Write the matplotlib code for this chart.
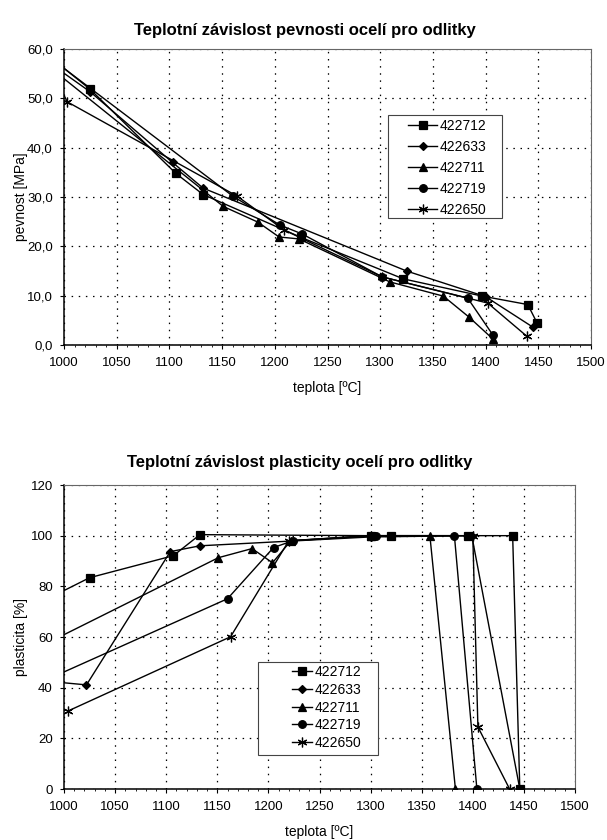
import matplotlib
matplotlib.use("Agg")
import matplotlib.pyplot as plt
from matplotlib.ticker import MultipleLocator
from matplotlib.patches import Rectangle

plt.rcParams['font.family'] = ['Liberation Sans', 'DejaVu Sans']

series_names = ["422712", "422633", "422711", "422719", "422650"]
markers = ["s", "D", "^", "o", (6, 2, 0)]
marker_sizes = [5.5, 4.0, 5.5, 5.5, 7.0]

# --- Strength (pevnost) data: temperature [°C], strength [MPa]
str_T = {
    "422712": [990, 1025, 1106, 1132, 1225, 1322, 1397, 1440, 1449],
    "422633": [990, 1025, 1103, 1132, 1325, 1400, 1445],
    "422711": [990, 1151, 1184, 1204, 1223, 1309, 1360, 1384, 1407],
    "422719": [990, 1160, 1205, 1226, 1302, 1383, 1407],
    "422650": [995, 1003, 1164, 1209, 1302, 1402, 1439],
}
str_V = {
    "422712": [57.8, 51.8, 34.8, 30.5, 21.8, 13.4, 9.9, 8.2, 4.4],
    "422633": [56.6, 51.3, 37.0, 31.8, 15.0, 9.8, 3.6],
    "422711": [55.7, 28.1, 24.9, 21.9, 21.5, 12.8, 9.9, 5.7, 1.2],
    "422719": [57.7, 30.2, 24.3, 22.5, 13.8, 9.5, 2.0],
    "422650": [52.9, 49.3, 30.2, 23.3, 13.8, 8.5, 1.8],
}

# --- Plasticity data: temperature [°C], plasticity [%]
pl_T = {
    "422712": [990, 1025, 1107, 1133, 1300, 1320, 1395, 1439, 1446],
    "422633": [990, 1022, 1104, 1133, 1300, 1399, 1446],
    "422711": [990, 1151, 1184, 1204, 1222, 1300, 1358, 1383],
    "422719": [990, 1160, 1205, 1224, 1305, 1382, 1404],
    "422650": [1004, 1163, 1220, 1300, 1400, 1405, 1436],
}
pl_V = {
    "422712": [76.3, 83.4, 92.1, 100.4, 100, 100, 100, 100, 0],
    "422633": [42.3, 41.1, 93.7, 96.0, 99.5, 100, 0],
    "422711": [58.9, 91.3, 94.9, 89.3, 98.0, 100, 100, 0],
    "422719": [44.4, 75.1, 95.3, 98.0, 100, 100, 0],
    "422650": [30.8, 60.1, 98.0, 100, 100, 24.5, 0],
}

x_ticks = [1000, 1050, 1100, 1150, 1200, 1250, 1300, 1350, 1400, 1450, 1500]
str_yticks = [0, 10, 20, 30, 40, 50, 60]
str_ylabels = ["0,0", "10,0", "20,0", "30,0", "40,0", "50,0", "60,0"]
pl_yticks = [0, 20, 40, 60, 80, 100, 120]

W, H = 607, 840
fig = plt.figure(figsize=(W / 100, H / 100), dpi=100)


def px_axes(l, t, r, b):
    return fig.add_axes([l / W, 1 - b / H, (r - l) / W, (b - t) / H])


def style(ax, yticks, ylabels, ylim, ylab, label_x):
    ax.set_xlim(1000, 1500)
    ax.set_ylim(*ylim)
    ax.set_xticks(x_ticks)
    ax.set_yticks(yticks)
    ax.set_yticklabels(ylabels)
    ax.tick_params(labelsize=9.5, direction="out", length=3, width=0.8, colors="black")
    ax.tick_params(axis="x", pad=6)
    ax.tick_params(axis="y", pad=5)
    ax.xaxis.set_minor_locator(MultipleLocator(10))
    ax.tick_params(which="minor", length=1.5, width=0.6)
    ax.grid(True, which="major", linestyle=(0, (1.2, 4.5)), color="black", linewidth=0.9)
    for s in ["left", "bottom"]:
        ax.spines[s].set_color("black")
        ax.spines[s].set_linewidth(1.1)
    for s in ["top", "right"]:
        ax.spines[s].set_color("#666666")
        ax.spines[s].set_linewidth(0.8)
    ax.set_xlabel("teplota [ºC]", fontsize=10, labelpad=8)
    ax.set_ylabel(ylab, fontsize=10)
    ax.yaxis.set_label_coords(label_x, 0.5)
    ax.set_axisbelow(True)


def legend_box(ax, box_px, ax_px, anchor_px, handlelength, labelspacing):
    # box_px: (l, t, r, b) in figure pixels; ax_px: axes (l, t, r, b)
    al, at, ar, ab = ax_px
    aw, ah = ar - al, ab - at
    l, t, r, b = box_px
    rect = Rectangle(((l - al) / aw, (ab - b) / ah), (r - l) / aw, (b - t) / ah,
                     transform=ax.transAxes, facecolor="white", edgecolor="#444444",
                     linewidth=0.8, zorder=4.5, clip_on=False)
    ax.add_patch(rect)
    ax_x, ax_y = anchor_px
    leg = ax.legend(loc="upper left", bbox_to_anchor=((ax_x - al) / aw, (ab - ax_y) / ah),
                    borderaxespad=0, borderpad=0, fontsize=10, frameon=False,
                    labelspacing=labelspacing, handlelength=handlelength,
                    handletextpad=0.15)
    leg.set_zorder(5)
    return leg


# Top chart
ax1_px = (64, 49, 591, 345)
ax1 = px_axes(*ax1_px)
for name, m, ms in zip(series_names, markers, marker_sizes):
    ax1.plot(str_T[name], str_V[name], color="black", linewidth=1.0,
             marker=m, markersize=ms, markerfacecolor="black",
             markeredgecolor="black", markeredgewidth=0.9, label=name)
style(ax1, str_yticks, str_ylabels, (0, 60), "pevnost [MPa]", (28 - 64) / 527)
legend_box(ax1, (388, 115, 502, 218), ax1_px, (408, 119), 2.1, 0.5)
fig.text(305 / W, 1 - 30 / H, "Teplotní závislost pevnosti ocelí pro odlitky",
         ha="center", va="center", fontsize=12, fontweight="bold")

# Bottom chart
ax2_px = (64, 485, 575, 789)
ax2 = px_axes(*ax2_px)
for name, m, ms in zip(series_names, markers, marker_sizes):
    ax2.plot(pl_T[name], pl_V[name], color="black", linewidth=1.0,
             marker=m, markersize=ms, markerfacecolor="black",
             markeredgecolor="black", markeredgewidth=0.9, label=name)
style(ax2, pl_yticks, [str(v) for v in pl_yticks], (0, 120), "plasticita [%]", (28 - 64) / 511)
legend_box(ax2, (258, 662, 378, 755), ax2_px, (292, 665), 1.45, 0.27)
fig.text(300 / W, 1 - 462 / H, "Teplotní závislost plasticity ocelí pro odlitky",
         ha="center", va="center", fontsize=12, fontweight="bold")

fig.savefig("out.png", dpi=100)
